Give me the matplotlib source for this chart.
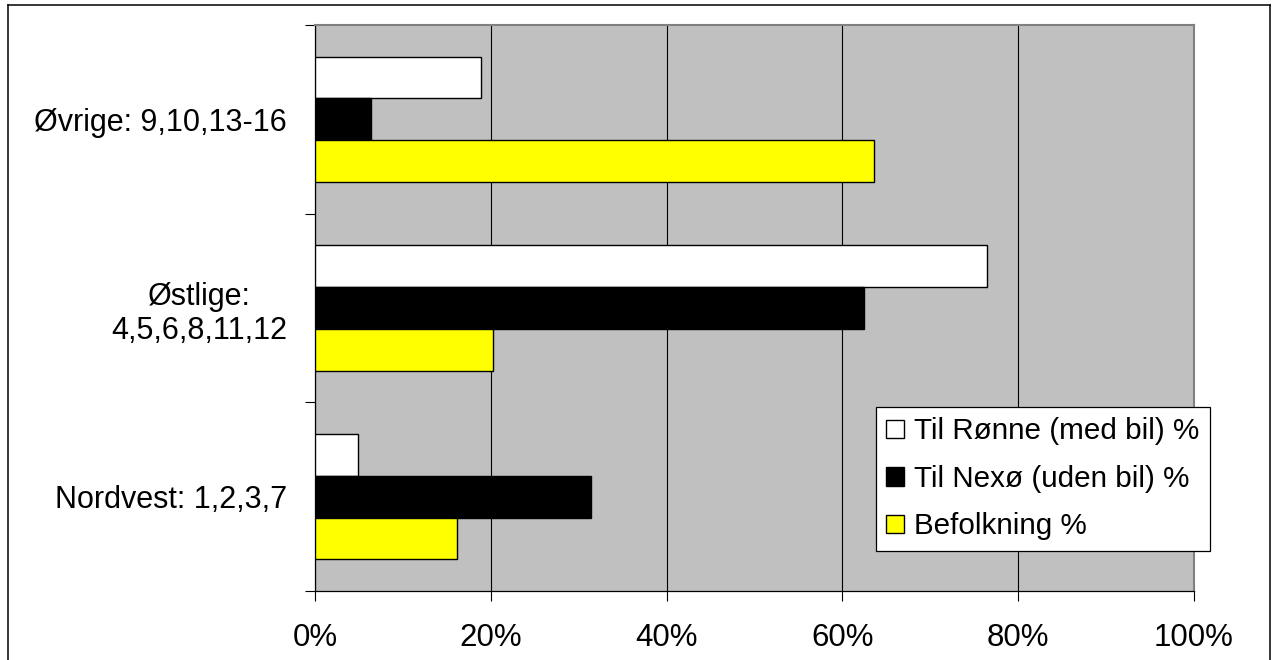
import matplotlib
matplotlib.use("Agg")
import matplotlib.pyplot as plt
from matplotlib.lines import Line2D
from matplotlib.ticker import FixedLocator, FuncFormatter
import numpy as np

plt.rcParams['font.family'] = ['Liberation Sans', 'DejaVu Sans']

categories = ["Nordvest: 1,2,3,7", "Østlige:\n4,5,6,8,11,12", "Øvrige: 9,10,13-16"]
series_names = ["Til Rønne (med bil) %", "Til Nexø (uden bil) %", "Befolkning %"]
til_ronne = [4.9, 76.4, 18.9]
til_nexo = [31.4, 62.5, 6.4]
befolkning = [16.1, 20.3, 63.6]
x_ticks = [0, 20, 40, 60, 80, 100]

colors = ["#FFFFFF", "#000000", "#FFFF00"]

fig = plt.figure(figsize=(12.75, 6.6), dpi=100)
W, H = 1275, 660
ax = fig.add_axes([315 / W, (H - 591) / H, (1194 - 315) / W, (591 - 25) / H])
ax.set_facecolor("#C0C0C0")

y = np.arange(len(categories))
bh = 0.222
offsets = [bh, 0, -bh]
for vals, c, off, name in zip([til_ronne, til_nexo, befolkning], colors, offsets, series_names):
    ax.barh(y + off, vals, height=bh, color=c, edgecolor="#000000", linewidth=1.0,
            label=name, zorder=3)

ax.set_xlim(0, 100)
ax.set_ylim(-0.5, 2.5)
ax.xaxis.set_major_locator(FixedLocator(x_ticks))
ax.xaxis.set_major_formatter(FuncFormatter(lambda v, p: f"{int(v)}%"))
ax.grid(axis="x", color="#000000", linewidth=0.8, zorder=1)
ax.set_axisbelow(True)

ax.set_yticks(y)
ax.set_yticklabels(categories)
for lbl in ax.get_yticklabels():
    lbl.set_multialignment("center")
ax.set_yticks(np.arange(-0.5, 3.0, 1.0), minor=True)
ax.tick_params(axis="y", which="major", length=0, pad=20, labelsize=22)
ax.tick_params(axis="y", which="minor", length=7, width=0.8, color="#000000")
ax.tick_params(axis="x", which="major", length=7, width=0.8, pad=16, labelsize=22.5, color="#000000")

for s in ["top", "right"]:
    ax.spines[s].set_color("#808080")
    ax.spines[s].set_linewidth(1.5)
for s in ["left", "bottom"]:
    ax.spines[s].set_color("#000000")
    ax.spines[s].set_linewidth(0.9)

leg = fig.legend(loc="upper left", bbox_to_anchor=(876 / W, 1 - 407 / H),
                 fontsize=21.3, frameon=True, fancybox=False, shadow=False, framealpha=1,
                 handlelength=0.6, handleheight=0.6, handletextpad=0.35,
                 borderpad=0.35, labelspacing=0.66, borderaxespad=0)
leg.get_frame().set_edgecolor("#000000")
leg.get_frame().set_linewidth(0.9)
leg.get_frame().set_facecolor("#FFFFFF")

# figure border
lw = 1.1
fig.add_artist(Line2D([8 / W, 8 / W], [0, 1 - 5 / H], transform=fig.transFigure, color="black", lw=lw))
fig.add_artist(Line2D([8 / W, 1270 / W], [1 - 5 / H, 1 - 5 / H], transform=fig.transFigure, color="black", lw=lw))
fig.add_artist(Line2D([1270 / W, 1270 / W], [0, 1 - 5 / H], transform=fig.transFigure, color="black", lw=lw))

fig.savefig("out.png", dpi=100)
